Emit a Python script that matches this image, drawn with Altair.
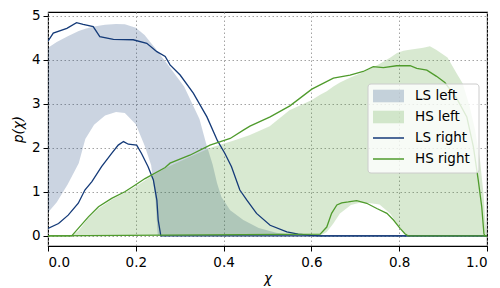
import altair as alt
import pandas as pd

NAVY = "#143a78"
GREEN = "#4f9b2c"

# ---- LS left band (fill) ----
ls_band_x = [0, 0.02, 0.045, 0.07, 0.085, 0.105, 0.13, 0.155, 0.175, 0.2, 0.22, 0.235,
             0.245, 0.25, 0.27, 0.31, 0.345, 0.36, 0.375, 0.385, 0.395, 0.415, 0.445,
             0.48, 0.52, 0.56, 0.6]
ls_band_hi = [4.27, 4.4, 4.53, 4.65, 4.7, 4.75, 4.79, 4.81, 4.8, 4.72, 4.56, 4.37,
              4.25, 4.18, 3.92, 3.39, 2.65, 2.1, 1.62, 1.2, 0.88, 0.58, 0.36,
              0.18, 0.07, 0.02, 0]
ls_band_lo = [0.53, 0.76, 1.17, 1.65, 2.2, 2.52, 2.73, 2.81, 2.79, 2.53, 2.05, 1.6,
              0.8, 0, 0, 0, 0, 0, 0, 0, 0, 0, 0,
              0, 0, 0, 0]

# ---- HS left band (fill) ----
hs_band_x = [0.055, 0.07, 0.09, 0.115, 0.145, 0.175, 0.2, 0.23, 0.27, 0.32, 0.37, 0.42,
             0.46, 0.505, 0.55, 0.6, 0.62, 0.635, 0.65, 0.665, 0.69, 0.71, 0.735, 0.755,
             0.78, 0.795, 0.81, 0.82, 0.855, 0.87, 0.885, 0.91, 0.93, 0.945, 0.96, 0.973,
             0.984, 0.992, 0.996, 1.0]
hs_band_hi = [0, 0.12, 0.38, 0.62, 0.82, 0.98, 1.12, 1.32, 1.55, 1.78, 2.0, 2.15,
              2.29, 2.49, 2.85, 3.08, 3.2, 3.28, 3.39, 3.48, 3.6, 3.68, 3.8, 3.9,
              4.05, 4.15, 4.2, 4.22, 4.27, 4.3, 4.22, 4.05, 3.7, 3.45, 2.95, 2.4,
              1.72, 0.96, 0.36, 0]
hs_band_lo = [0, 0, 0, 0, 0, 0, 0, 0, 0, 0, 0, 0,
              0, 0, 0, 0, 0, 0.09, 0.28, 0.51, 0.7, 0.75, 0.74, 0.71,
              0.5, 0.28, 0.09, 0, 0, 0, 0, 0, 0, 0, 0, 0,
              0, 0, 0, 0]

# ---- LS right lines ----
ls_up_x = [0, 0.012, 0.043, 0.065, 0.08, 0.103, 0.118, 0.149, 0.194, 0.225, 0.248, 0.267,
           0.278, 0.301, 0.331, 0.362, 0.386, 0.403, 0.418, 0.437, 0.453, 0.475, 0.506,
           0.544, 0.57, 0.6, 0.62, 1.0]
ls_up_y = [4.42, 4.6, 4.71, 4.84, 4.8, 4.75, 4.52, 4.46, 4.45, 4.37, 4.18, 4.07,
           3.88, 3.65, 3.24, 2.7, 2.16, 1.87, 1.57, 1.04, 0.81, 0.51, 0.24,
           0.09, 0.04, 0.01, 0, 0]
ls_lo_x = [0, 0.024, 0.046, 0.069, 0.084, 0.1, 0.122, 0.145, 0.16, 0.172, 0.183, 0.202,
           0.213, 0.228, 0.24, 0.248, 0.251, 0.257, 1.0]
ls_lo_y = [0.17, 0.28, 0.47, 0.74, 1.04, 1.23, 1.57, 1.87, 2.06, 2.14, 2.08, 2.06,
           1.87, 1.57, 1.27, 0.81, 0.36, 0, 0]

# ---- HS right lines ----
hs_up_x = [0, 0.054, 0.069, 0.092, 0.115, 0.145, 0.175, 0.198, 0.221, 0.267, 0.278, 0.323,
           0.369, 0.415, 0.445, 0.46, 0.506, 0.551, 0.601, 0.65, 0.688, 0.718, 0.741,
           0.764, 0.794, 0.825, 0.84, 0.863, 0.885, 0.904, 0.931, 0.954, 0.969, 0.98,
           0.988, 0.993, 0.995, 1.0]
hs_up_y = [0, 0, 0.17, 0.43, 0.66, 0.85, 1.0, 1.15, 1.3, 1.55, 1.65, 1.83,
           2.06, 2.21, 2.4, 2.49, 2.7, 2.95, 3.33, 3.58, 3.65, 3.73, 3.84,
           3.82, 3.86, 3.86, 3.8, 3.76, 3.62, 3.48, 3.12, 2.7, 2.02, 1.27,
           0.66, 0.05, 0, 0]
hs_lo_x = [0, 0.62, 0.635, 0.646, 0.658, 0.669, 0.684, 0.703, 0.726, 0.749, 0.772, 0.787,
           0.802, 0.813, 0.82, 1.0]
hs_lo_y = [0, 0.04, 0.2, 0.51, 0.7, 0.75, 0.77, 0.8, 0.74, 0.62, 0.51, 0.36,
           0.17, 0.05, 0, 0]

series = ["LS left", "HS left", "LS right", "HS right"]
legend_rows = [0, 1, 2, 3]

bands = pd.concat([
    pd.DataFrame({"series": "LS left", "x": ls_band_x, "lo": ls_band_lo, "hi": ls_band_hi}),
    pd.DataFrame({"series": "HS left", "x": hs_band_x, "lo": hs_band_lo, "hi": hs_band_hi}),
], ignore_index=True)
lines = pd.concat([
    pd.DataFrame({"series": "LS right", "part": "LS up", "x": ls_up_x, "y": ls_up_y}),
    pd.DataFrame({"series": "LS right", "part": "LS lo", "x": ls_lo_x, "y": ls_lo_y}),
    pd.DataFrame({"series": "HS right", "part": "HS lo", "x": hs_lo_x, "y": hs_lo_y}),
    pd.DataFrame({"series": "HS right", "part": "HS up", "x": hs_up_x, "y": hs_up_y}),
], ignore_index=True)
leg = pd.DataFrame({"series": series, "row": legend_rows})

FONT = "DejaVu Sans"
FS = 13.5

color = alt.Color("series:N", scale=alt.Scale(domain=series, range=[NAVY, GREEN, NAVY, GREEN]),
                  legend=None)

xs = alt.Scale(domain=[0, 1], nice=False, zero=False)
ys = alt.Scale(domain=[-0.23, 5.08], nice=False, zero=False)
rowscale = alt.Scale(domain=[0, 3], range=[84, 147], nice=False, zero=False)

xaxis = alt.Axis(values=[0, 0.2, 0.4, 0.6, 0.8, 1.0], format=".1f", title="χ",
                 titleFontStyle="italic", titleFontWeight="normal", titleFont=FONT,
                 titleFontSize=FS, titlePadding=3, labelFont=FONT, labelFontSize=FS,
                 labelColor="#000000", labelPadding=4, tickColor="#000000", tickSize=5,
                 domain=False, gridDash=[1.5, 2.5], gridColor="#999999", gridWidth=0.9)
yaxis = alt.Axis(values=[0, 1, 2, 3, 4, 5], format="d", title="p(χ)",
                 titleFontStyle="italic", titleFontWeight="normal", titleFont=FONT,
                 titleFontSize=FS, titlePadding=6, labelFont=FONT, labelFontSize=FS,
                 labelColor="#000000", labelPadding=3, tickColor="#000000", tickSize=5,
                 domain=False, gridDash=[1.5, 2.5], gridColor="#999999", gridWidth=0.9)

area = alt.Chart(bands).mark_area(fillOpacity=0.22, interpolate="linear", line=False).encode(
    x=alt.X("x:Q", scale=xs, axis=xaxis),
    y=alt.Y("lo:Q", scale=ys, axis=yaxis, stack=None),
    y2=alt.Y2("hi:Q"),
    color=color,
)

line = alt.Chart(lines).mark_line(strokeWidth=1.3, clip=True).encode(
    x=alt.X("x:Q", scale=xs, axis=xaxis),
    y=alt.Y("y:Q", scale=ys, axis=None),
    color=color,
    detail="part:N",
    order=alt.Order("x:Q"),
)

# ---- legend (drawn as marks) ----
frame = alt.Chart(leg).transform_filter("datum.row == 0").mark_rect(
    fill="white", fillOpacity=0.8, stroke="#cccccc", strokeWidth=1, cornerRadius=3
).encode(x=alt.value(320), x2=alt.value(431), y=alt.value(72), y2=alt.value(161))

leg_fill = alt.Chart(leg).transform_filter("datum.row < 2").transform_calculate(
    y0="datum.row - 0.3", y1="datum.row + 0.3"
).mark_rect(fillOpacity=0.22).encode(
    x=alt.value(325), x2=alt.value(356),
    y=alt.Y("y0:Q", scale=rowscale, axis=None), y2="y1:Q",
    color=color,
)

leg_line = alt.Chart(leg).transform_filter("datum.row >= 2").mark_rule(strokeWidth=1.5).encode(
    x=alt.value(325), x2=alt.value(356),
    y=alt.Y("row:Q", scale=rowscale, axis=None),
    color=color,
)

leg_text = alt.Chart(leg).mark_text(
    align="left", baseline="middle", font=FONT, fontSize=FS, color="#000000"
).encode(
    x=alt.value(367),
    y=alt.Y("row:Q", scale=rowscale, axis=None),
    text="series:N",
)

legend_layer = alt.layer(frame, leg_fill, leg_line, leg_text)

chart = alt.layer(area, line, legend_layer).resolve_scale(y="independent").properties(
    width=439, height=234,
    background="white",
    autosize=alt.AutoSizeParams(type="none"),
    padding={"left": 40, "top": 4, "right": 5, "bottom": 42},
).configure_view(stroke="#000000", strokeWidth=1.1)

chart.save("out.html", embed_options={"renderer": "svg", "actions": False})
